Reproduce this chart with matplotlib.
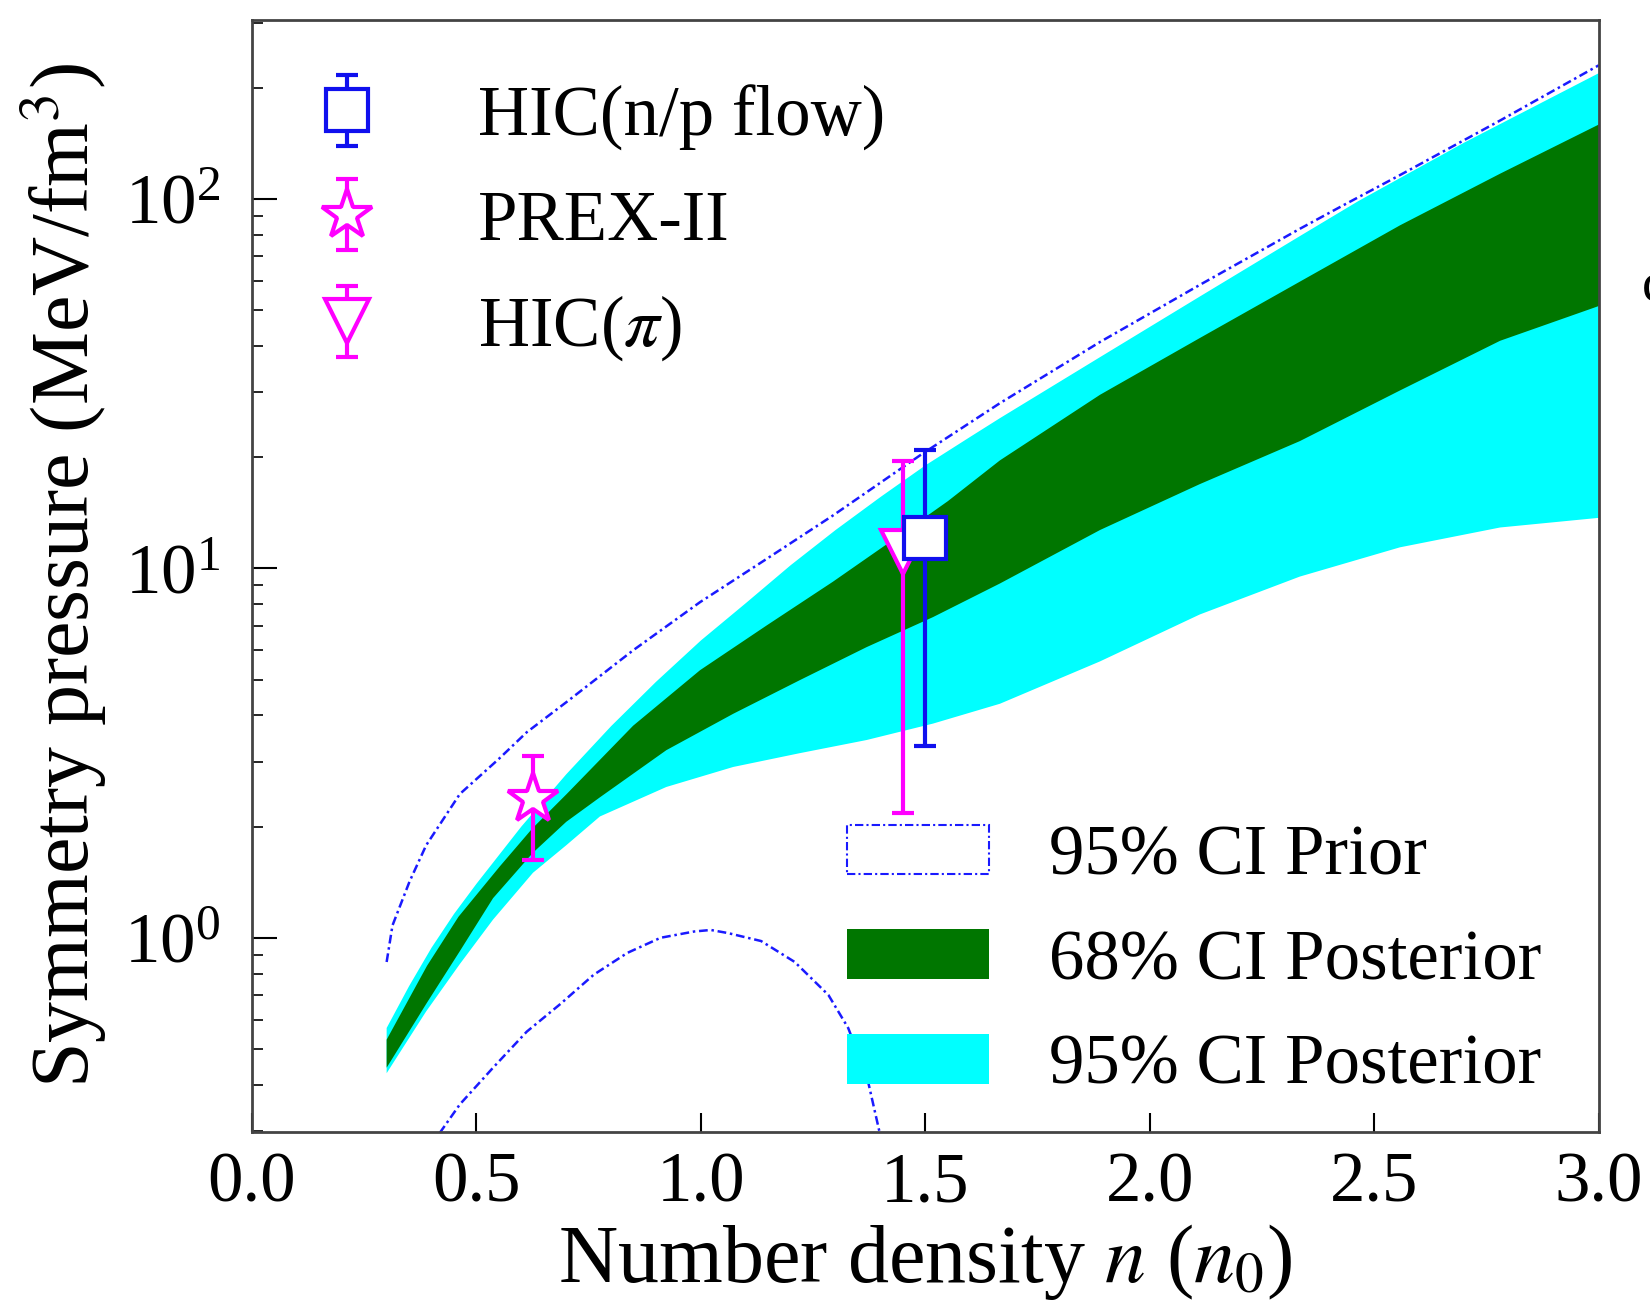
import matplotlib
matplotlib.use('Agg')
import matplotlib.pyplot as plt
from matplotlib.patches import Patch

plt.rcParams['font.family'] = ['Liberation Serif', 'DejaVu Serif']
plt.rcParams['mathtext.fontset'] = 'stix'

# 95% CI posterior edges (symmetry pressure, MeV/fm^3)
n_cyan_hi = [0.30, 0.35, 0.40, 0.45, 0.50, 0.60, 0.70, 0.80, 0.90, 1.00, 1.10, 1.20, 1.30,
             1.40, 1.50, 1.60, 1.666, 1.889, 2.111, 2.334, 2.464, 2.70, 3.00]
cyan_hi = [0.57, 0.74, 0.94, 1.16, 1.40, 2.0, 2.77, 3.74, 4.93, 6.38, 8.05, 10.2, 12.7,
           15.6, 19.0, 22.7, 25.5, 37.3, 54.4, 79.3, 98.6, 142, 219]
n_cyan_lo = [0.30, 0.388, 0.463, 0.537, 0.626, 0.70, 0.775, 0.923, 1.072, 1.22, 1.369, 1.517,
             1.666, 1.889, 2.111, 2.334, 2.557, 2.78, 3.00]
cyan_lo = [0.43, 0.632, 0.849, 1.12, 1.50, 1.78, 2.13, 2.56, 2.90, 3.16, 3.43, 3.80,
           4.3, 5.6, 7.5, 9.5, 11.4, 12.9, 13.7]

# 68% CI posterior edges
n_green_hi = [0.30, 0.39, 0.46, 0.552, 0.625, 0.701, 0.849, 0.998, 1.146, 1.294, 1.443, 1.55,
              1.666, 1.889, 2.111, 2.334, 2.557, 2.78, 3.00]
green_hi = [0.53, 0.84, 1.14, 1.56, 1.98, 2.45, 3.75, 5.3, 7.0, 9.2, 12.3, 15.2,
            19.6, 29.5, 42, 59.7, 84.8, 117, 159]
n_green_lo = [0.30, 0.388, 0.463, 0.537, 0.626, 0.70, 0.775, 0.923, 1.072, 1.22, 1.369, 1.517,
              1.666, 1.889, 2.111, 2.334, 2.557, 2.78, 3.00]
green_lo = [0.445, 0.662, 0.92, 1.28, 1.70, 2.06, 2.40, 3.22, 4.04, 4.98, 6.12, 7.38,
            9.1, 12.7, 16.9, 22.1, 30.3, 41.3, 51.3]

# 95% CI prior edges
n_prior_hi = [0.30, 0.313, 0.351, 0.388, 0.463, 0.55, 0.612, 0.701, 0.849, 0.998, 1.146, 1.294,
              1.49, 1.666, 1.889, 2.111, 2.334, 2.43, 2.557, 2.78, 3.00]
prior_hi = [0.86, 1.08, 1.42, 1.78, 2.45, 3.05, 3.6, 4.35, 6.0, 8.1, 10.6, 13.9,
            20.3, 28.0, 41, 58.5, 83, 96, 116, 163, 230]
n_prior_lo = [0.418, 0.463, 0.537, 0.612, 0.687, 0.761, 0.836, 0.91, 0.985, 1.022, 1.06, 1.134,
              1.209, 1.284, 1.328, 1.37, 1.40]
prior_lo = [0.296, 0.354, 0.445, 0.557, 0.662, 0.794, 0.91, 1.0, 1.04, 1.05, 1.03, 0.98,
            0.86, 0.70, 0.57, 0.42, 0.29]

# experimental constraints
flow_n, flow_p, flow_err = 1.50, 12.1, [[8.8], [8.8]]
prex_n, prex_p, prex_err = 0.625, 2.37, [[0.75], [0.74]]
pion_n, pion_p, pion_err = 1.45, 11.07, [[8.9], [8.4]]

fig = plt.figure(figsize=(16.5, 13.06), dpi=100)
ax = fig.add_axes([0.1527, 0.1332, 0.8163, 0.8515])

ax.fill(n_cyan_hi + n_cyan_lo[::-1], cyan_hi + cyan_lo[::-1], color='#00ffff', lw=0)
ax.fill(n_green_hi + n_green_lo[::-1], green_hi + green_lo[::-1], color='#007600', lw=0)

ls_prior = (0, (3.5, 1.5, 1, 1.5))
ax.plot(n_prior_hi, prior_hi, color='#1a1aff', lw=1.8, ls=ls_prior)
ax.plot(n_prior_lo, prior_lo, color='#1a1aff', lw=1.8, ls=ls_prior)

eb_flow = ax.errorbar(flow_n, flow_p, yerr=flow_err, fmt='s', ms=30, mfc='white', mec='#1010ee',
                      mew=3, ecolor='#1010ee', elinewidth=3, capsize=8, capthick=3, zorder=5)
eb_prex = ax.errorbar(prex_n, prex_p, yerr=prex_err, fmt='*', ms=38, mfc='white', mec='#ff00ff',
                      mew=3, ecolor='#ff00ff', elinewidth=3, capsize=8, capthick=3, zorder=4)
eb_pion = ax.errorbar(pion_n, pion_p, yerr=pion_err, fmt='v', ms=32, mfc='white', mec='#ff00ff',
                      mew=3, ecolor='#ff00ff', elinewidth=3, capsize=8, capthick=3, zorder=4)

ax.set_yscale('log')
ax.set_xlim(0, 3.0)
ax.set_ylim(0.298, 305)
ax.set_xticks([0.0, 0.5, 1.0, 1.5, 2.0, 2.5, 3.0])
ax.set_xticklabels(['0.0', '0.5', '1.0', '1.5', '2.0', '2.5', '3.0'])
ax.tick_params(axis='both', which='both', direction='in', labelsize=51)
ax.tick_params(axis='x', which='major', length=14, width=1.5, pad=14)
ax.tick_params(axis='y', which='major', length=18, width=1.5, pad=23)
ax.tick_params(axis='y', which='minor', length=8, width=1.2)
for sp in ax.spines.values():
    sp.set_linewidth(2)
    sp.set_color('#444444')

ax.set_xlabel('Number density $n$ ($n_0$)', fontsize=59, labelpad=4)
ax.set_ylabel('Symmetry pressure (MeV/fm$^3$)', fontsize=59, labelpad=11)

leg1 = ax.legend([eb_flow, eb_prex, eb_pion], ['HIC(n/p flow)', 'PREX-II', r'HIC($\pi$)'],
                 loc='upper left', bbox_to_anchor=(0.018, 0.942), frameon=False, fontsize=51,
                 handlelength=2.0, handletextpad=0.85, labelspacing=0.55, borderpad=0, borderaxespad=0)
ax.add_artist(leg1)

h_prior = Patch(facecolor='white', edgecolor='#1a1aff', lw=1.5, ls=(0, (4, 1.5, 1, 1.5)))
h_68 = Patch(facecolor='#007600', edgecolor='none')
h_95 = Patch(facecolor='#00ffff', edgecolor='none')
ax.legend([h_prior, h_68, h_95], ['95% CI Prior', '68% CI Posterior', '95% CI Posterior'],
          loc='lower left', bbox_to_anchor=(0.442, 0.03), frameon=False, fontsize=51,
          handlelength=2.0, handleheight=0.7, handletextpad=0.85, labelspacing=0.56,
          borderpad=0, borderaxespad=0)

fig.text(0.995, 0.78, 'c', fontsize=40, ha='left', va='center')

fig.savefig('out.png', dpi=100)
